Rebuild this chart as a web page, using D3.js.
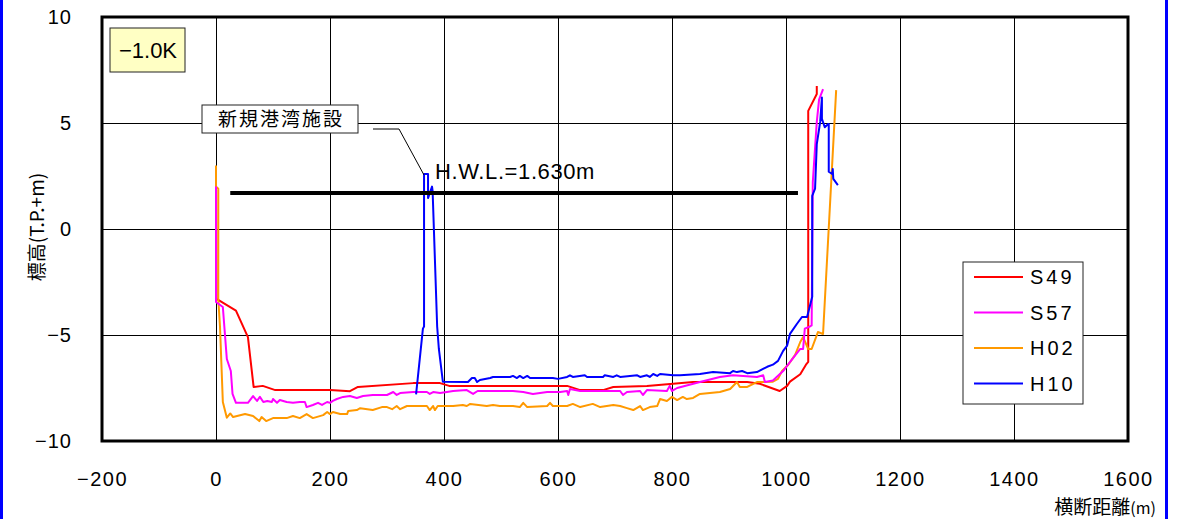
<!DOCTYPE html>
<html>
<head>
<meta charset="utf-8">
<script src="https://cdn.jsdelivr.net/npm/d3@7"></script>
<style>
  body { margin: 0; background: #fff; }
  svg { display: block; }
  text { font-family: "Liberation Sans", Arial, sans-serif; fill: #000; }
  .jp { font-family: "Noto Sans CJK JP", sans-serif; }
</style>
</head>
<body>
<div id="chart"></div>
<script>
const width = 1195,
height = 519,
padding = {
  top: 17,
  bottom: 78,
  left: 102,
  right: 67 };

// axis ticks
const xTicks = [-200, 0, 200, 400, 600, 800, 1000, 1200, 1400, 1600];
const yTicks = [-10, -5, 0, 5, 10];

// series names + colours (legend order)
const seriesNames = ['S49', 'S57', 'H02', 'H10'];
const seriesColors = ['#ff0000', '#ff00ff', '#ff9900', '#0000ff'];

// cross section profiles [distance m, elevation T.P.+m]
const s49 = [
[0, 2.0], [1, -3.3], [35, -3.85], [56, -5.1], [66, -7.45], [82, -7.4], [104, -7.6], [200, -7.6],
[235, -7.65], [249, -7.45], [346, -7.27], [393, -7.27], [409, -7.4], [616, -7.4], [639, -7.6],
[679, -7.6], [697, -7.45], [756, -7.4], [802, -7.3], [837, -7.22], [932, -7.22], [954, -7.3],
[989, -7.64], [1002, -7.4], [1007, -7.2], [1025, -6.85], [1035, -6.4], [1039, -6.27],
[1039, 5.57], [1054, 6.37], [1054, 6.75]];

const s57 = [
[0, 2.0], [0, -3.44], [12, -3.68], [19, -6.13], [26, -6.7], [29, -7.78], [35, -8.2], [56, -8.2],
[65, -7.88], [72, -8.11], [77, -7.92], [83, -8.16], [90, -8.11], [98, -8.16], [100, -8.02],
[107, -8.2], [112, -8.07], [124, -8.16], [135, -8.2], [147, -8.16], [156, -8.16], [159, -8.4],
[170, -8.3], [179, -8.2], [186, -8.3], [195, -8.16], [200, -8.2], [205, -8.11], [212, -8.02],
[223, -7.92], [235, -7.88], [247, -7.97], [258, -7.88], [275, -7.83], [300, -7.83], [311, -7.69],
[317, -7.83], [323, -7.74], [346, -7.69], [370, -7.69], [375, -7.78], [381, -7.69], [393, -7.74],
[405, -7.69], [416, -7.64], [440, -7.6], [451, -7.78], [459, -7.64], [498, -7.64], [521, -7.64],
[539, -7.69], [556, -7.78], [581, -7.69], [604, -7.69], [616, -7.64], [618, -7.83], [621, -7.55],
[639, -7.64], [709, -7.64], [714, -7.83], [721, -7.69], [744, -7.64], [749, -7.83], [756, -7.6],
[791, -7.64], [796, -7.4], [800, -7.64], [809, -7.5], [849, -7.22], [884, -6.98], [907, -6.9],
[949, -6.98], [960, -6.9], [963, -7.22], [977, -7.15], [995, -6.7], [1002, -6.45], [1012, -6.1],
[1025, -5.66], [1030, -5.66], [1033, -4.7], [1042, -4.6], [1045, -4.55], [1047, 2.2],
[1054, 5.05], [1058, 6.1], [1065, 6.6]];

const h02 = [
[0, 3.0], [0, 2.0], [4, 1.9], [4, -3.3], [7, -4.6], [12, -8.16], [19, -8.9], [25, -8.7],
[30, -8.87], [51, -8.73], [65, -8.82], [76, -9.06], [80, -8.87], [88, -9.06], [100, -8.92],
[124, -8.92], [135, -8.82], [147, -8.92], [159, -8.73], [170, -8.92], [188, -8.78], [195, -8.63],
[200, -8.73], [205, -8.63], [218, -8.73], [230, -8.73], [232, -8.58], [247, -8.54], [253, -8.45],
[275, -8.54], [291, -8.4], [300, -8.4], [309, -8.5], [317, -8.35], [323, -8.5], [335, -8.35],
[370, -8.35], [375, -8.54], [381, -8.35], [384, -8.54], [389, -8.35], [416, -8.35], [433, -8.3],
[440, -8.35], [446, -8.25], [475, -8.35], [486, -8.3], [498, -8.35], [521, -8.35], [533, -8.4],
[539, -8.2], [546, -8.4], [581, -8.35], [586, -8.2], [591, -8.35], [616, -8.35], [626, -8.25],
[639, -8.4], [661, -8.25], [674, -8.4], [697, -8.3], [709, -8.35], [721, -8.45], [732, -8.54],
[744, -8.35], [749, -8.54], [761, -8.4], [774, -8.35], [779, -8.02], [791, -8.11], [800, -7.92],
[809, -8.07], [819, -7.92], [826, -8.02], [837, -7.97], [849, -7.78], [884, -7.69], [902, -7.55],
[914, -7.22], [919, -7.45], [932, -7.45], [949, -7.22], [977, -7.2], [986, -7.07], [993, -6.7],
[1004, -6.4], [1016, -5.94], [1025, -5.33], [1030, -5.1], [1039, -5.66], [1045, -5.66],
[1056, -4.86], [1065, -4.95], [1088, 6.55]];

const h10 = [
[351, -7.8], [363, -4.7], [365, -4.6], [365, 2.6], [372, 2.6], [372, 1.46], [379, 2.0],
[380, 1.8], [384, -1.4], [388, -4.6], [391, -5.66], [398, -7.2], [442, -7.22], [449, -7.03],
[454, -7.03], [458, -7.22], [463, -7.12], [481, -7.03], [486, -6.98], [516, -6.98], [521, -6.93],
[528, -7.03], [533, -6.93], [539, -7.03], [546, -6.93], [551, -7.03], [591, -7.03], [600, -7.07],
[616, -6.98], [621, -6.9], [626, -6.98], [647, -6.9], [651, -6.98], [679, -6.98], [682, -6.9],
[697, -6.98], [703, -6.9], [709, -6.98], [739, -6.9], [744, -6.98], [756, -6.9], [761, -6.98],
[767, -6.84], [774, -6.93], [779, -6.84], [802, -6.9], [814, -6.9], [849, -6.84], [872, -6.75],
[902, -6.8], [907, -6.7], [914, -6.75], [923, -6.7], [932, -6.8], [949, -6.75], [967, -6.5],
[977, -6.4], [986, -6.22], [995, -5.75], [1002, -5.5], [1007, -4.95], [1019, -4.48],
[1028, -4.15], [1037, -4.15], [1046, -3.2], [1046, 1.56], [1051, 1.9], [1054, 4.0], [1060, 5.05],
[1063, 6.2], [1063, 5.2], [1068, 4.8], [1074, 4.95], [1075, 4.95], [1075, 2.7], [1081, 2.6],
[1082, 2.83], [1083, 2.36], [1091, 2.07]];

// H.W.L. line: level and extent
const hwlLevel = 1.7;
const hwlExtent = [25, 1021];

const svg = d3.select('#chart').
append('svg').
attr('width', width).
attr('height', height);

const x = d3.scaleLinear().
domain([-200, 1600]).
range([padding.left, width - padding.right]);

const y = d3.scaleLinear().
domain([-10, 10]).
range([height - padding.bottom, padding.top]);

// plain numbers, real minus sign, no thousands comma
const numFmt = d => d < 0 ? '−' + Math.abs(d) : String(d);

// grid
svg.append('g').
attr('transform', `translate(0,${height - padding.bottom})`).
call(d3.axisBottom(x).tickValues(xTicks).tickSize(-(height - padding.top - padding.bottom)).tickFormat('')).
call(g => g.select('.domain').remove()).
selectAll('line').attr('stroke', '#000').attr('stroke-width', 1);

svg.append('g').
attr('transform', `translate(${padding.left},0)`).
call(d3.axisLeft(y).tickValues(yTicks).tickSize(-(width - padding.left - padding.right)).tickFormat('')).
call(g => g.select('.domain').remove()).
selectAll('line').attr('stroke', '#000').attr('stroke-width', 1);

// tick labels
const xAxis = svg.append('g').
attr('transform', `translate(0,${height - padding.bottom})`).
call(d3.axisBottom(x).tickValues(xTicks).tickSize(0).tickPadding(31).tickFormat(numFmt));
xAxis.select('.domain').remove();
xAxis.selectAll('text').
style('font-size', '20px').
style('letter-spacing', '1.5px');

const yAxis = svg.append('g').
attr('transform', `translate(${padding.left},0)`).
call(d3.axisLeft(y).tickValues(yTicks).tickSize(0).tickPadding(30).tickFormat(numFmt));
yAxis.select('.domain').remove();
yAxis.selectAll('text').
style('font-size', '20px').
style('letter-spacing', '1px');

// series
const line = d3.line().
x(d => x(d[0])).
y(d => y(d[1]));

const drawOrder = [[s49, 0], [h02, 2], [s57, 1], [h10, 3]];
drawOrder.forEach(([data, i]) => {
  svg.append('path').
  datum(data).
  attr('d', line).
  attr('fill', 'none').
  attr('stroke', seriesColors[i]).
  attr('stroke-width', 2).
  attr('stroke-linejoin', 'round');
});

// H.W.L.
svg.append('line').
attr('x1', x(hwlExtent[0])).
attr('x2', x(hwlExtent[1])).
attr('y1', y(hwlLevel)).
attr('y2', y(hwlLevel)).
attr('stroke', '#000').
attr('stroke-width', 4);

svg.append('text').
attr('x', 435).
attr('y', 179).
style('font-size', '22px').
style('letter-spacing', '0.6px').
text('H.W.L.=1.630m');

// frame
svg.append('rect').
attr('x', padding.left).
attr('y', padding.top).
attr('width', width - padding.left - padding.right).
attr('height', height - padding.bottom - padding.top).
attr('fill', 'none').
attr('stroke', '#000').
attr('stroke-width', 3);

// -1.0K label
svg.append('rect').
attr('x', 110).attr('y', 28).
attr('width', 75).attr('height', 44).
attr('fill', '#ffffc4').
attr('stroke', '#222').
attr('stroke-width', 1);
svg.append('text').
attr('x', 148).attr('y', 58).
attr('text-anchor', 'middle').
style('font-size', '22px').
text('−1.0K');

// 新規港湾施設 callout
svg.append('polyline').
attr('points', '373,129 399,129 424,175').
attr('fill', 'none').
attr('stroke', '#000').
attr('stroke-width', 1);
svg.append('rect').
attr('x', 202).attr('y', 105).
attr('width', 156).attr('height', 28).
attr('fill', '#fff').
attr('stroke', '#222').
attr('stroke-width', 1);
svg.append('text').
attr('class', 'jp').
attr('x', 281).attr('y', 126).
attr('text-anchor', 'middle').
style('font-size', '19px').
style('letter-spacing', '2px').
text('新規港湾施設');

// axis titles
svg.append('text').
attr('class', 'jp').
attr('transform', 'translate(44,227) rotate(-90)').
attr('text-anchor', 'middle').
style('font-size', '19px').
text('標高(T.P.+m)');

const xTitle = svg.append('text').
attr('class', 'jp').
attr('x', 1156).attr('y', 514).
attr('text-anchor', 'end').
style('font-size', '19px');
xTitle.append('tspan').text('横断距離');
xTitle.append('tspan').style('font-size', '16px').text('(m)');

// legend
const legend = svg.append('g').
attr('transform', 'translate(963,262)');
legend.append('rect').
attr('width', 120).attr('height', 142).
attr('fill', '#fff').
attr('stroke', '#222').
attr('stroke-width', 1);
const item = legend.selectAll('g.item').
data(seriesNames).
enter().
append('g').
attr('class', 'item').
attr('transform', (d, i) => `translate(0,${15 + i * 35.5})`);
item.append('line').
attr('x1', 11).attr('x2', 60).
attr('stroke', (d, i) => seriesColors[i]).
attr('stroke-width', 2);
item.append('text').
attr('x', 67).attr('y', 7).
style('font-size', '20px').
style('letter-spacing', '3px').
text(d => d);

// outer blue frame edges
svg.append('line').
attr('x1', 1.5).attr('x2', 1.5).attr('y1', 0).attr('y2', height).
attr('stroke', '#0000ff').attr('stroke-width', 3);
svg.append('line').
attr('x1', 1166.5).attr('x2', 1166.5).attr('y1', 0).attr('y2', height).
attr('stroke', '#0000ff').attr('stroke-width', 3);
</script>
</body>
</html>
